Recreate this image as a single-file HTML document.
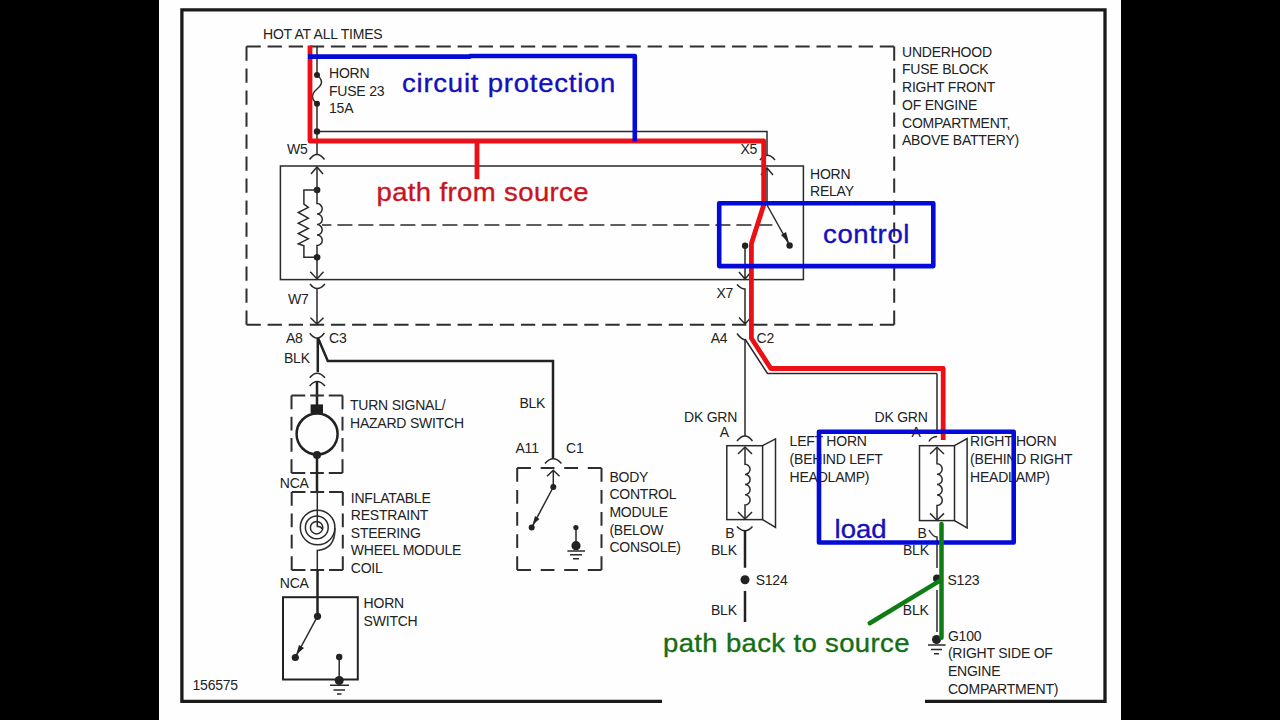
<!DOCTYPE html>
<html><head><meta charset="utf-8">
<style>
html,body{margin:0;padding:0;background:#000;width:1280px;height:720px;overflow:hidden}
#pg{position:absolute;left:159px;top:0;width:962px;height:720px;background:#fefefe}
svg{position:absolute;left:0;top:0}
text{font-family:"Liberation Sans",sans-serif}
.l{font-size:14px;fill:#222;letter-spacing:-0.22px}
.a{font-size:25px;stroke-width:0.35px}
.k{fill:none;stroke:#2a2a2a;stroke-width:1.5}
.kt{fill:none;stroke:#222;stroke-width:2.5}
.d{fill:none;stroke:#2e2e2e;stroke-width:2}
.r{fill:none;stroke:#ec0f16;stroke-width:4.8;stroke-linejoin:round}
.b{fill:none;stroke:#040ad8;stroke-width:4.6;stroke-linejoin:round}
.g{fill:none;stroke:#0f7d14;stroke-width:4.5;stroke-linecap:round}
.dot{fill:#222}
</style></head><body>
<div id="pg"></div>
<svg width="1280" height="720" viewBox="0 0 1280 720">
<!-- frame -->
<path d="M662,701.4 H181.9 V9.9 H1105 V701.4 H925" fill="none" stroke="#1a1a1a" stroke-width="3.3"/>

<!-- fuse block dashed -->
<path class="d" d="M246.5,46.5 L894.2,46.5" stroke-dasharray="14.30 6.81"/><path class="d" d="M246.5,324.7 L894.2,324.7" stroke-dasharray="14.30 6.81"/><path class="d" d="M246.5,46.5 L246.5,324.7" stroke-dasharray="14.30 7.69"/><path class="d" d="M894.2,46.5 L894.2,324.7" stroke-dasharray="14.30 7.69"/>

<!-- top labels -->
<text class="l" x="263.0" y="38.5">HOT AT ALL TIMES</text>
<text class="l" x="329.0" y="77.5">HORN</text>
<text class="l" x="329.0" y="95.5">FUSE 23</text>
<text class="l" x="329.0" y="113">15A</text>
<g class="l">
<text x="902.0" y="56.7">UNDERHOOD</text>
<text x="902.0" y="74.4">FUSE BLOCK</text>
<text x="902.0" y="92.1">RIGHT FRONT</text>
<text x="902.0" y="109.8">OF ENGINE</text>
<text x="902.0" y="127.5">COMPARTMENT,</text>
<text x="902.0" y="145.2">ABOVE BATTERY)</text>
</g>
<text class="l" x="287.0" y="153.7">W5</text>
<text class="l" x="288.0" y="304">W7</text>
<text class="l" x="740.5" y="153.9">X5</text>
<text class="l" x="716.5" y="298.3">X7</text>
<text class="l" x="810.0" y="178.5">HORN</text>
<text class="l" x="810.0" y="196">RELAY</text>

<!-- fuse wire -->
<path class="k" d="M317,46 V75 M317,103.7 V154.4 M317,131.5 H767 V155.5"/>
<path class="k" d="M317,75 C323,80 323,84 317,89 C311,94 311,99 317,103.7" stroke-width="1.8"/>
<circle class="dot" cx="317" cy="75" r="3"/>
<circle class="dot" cx="317" cy="103.7" r="3"/>
<circle class="dot" cx="317" cy="131.5" r="3.2"/>

<!-- W5 connector -->
<path class="k" d="M309.5,159.5 Q317,149.5 324.5,159.5" stroke-width="1.8"/>
<!-- relay box -->
<rect class="k" x="280.4" y="166" width="523" height="113.6"/>
<path class="k" d="M311,174 L317,167 L323,174"/>
<circle class="dot" cx="317.1" cy="190" r="3.3"/>
<path class="k" d="M317,190 H303.9 V204.2 L308.3,207.4 L298.3,212.5 L308.3,218.2 L298.3,223.2 L308.3,228.4 L298.3,233.6 L308.3,238.8 L298.3,243.8 L303.9,245.8 V257.3 H317"/>
<path class="k" d="M317,167 V203.6 A5.2,5.2 0 0 1 317,214 A5.2,5.2 0 0 1 317,224.6 A5.2,5.2 0 0 1 317,235 A5.2,5.2 0 0 1 317,245.5 V279"/>
<circle class="dot" cx="317.1" cy="257.3" r="3.3"/>
<path class="k" d="M310.3,271.7 L317,279 L323.5,271.7"/>
<path class="k" d="M322,225 H775" stroke-dasharray="15 6" stroke-dashoffset="5.6" stroke="#555" stroke-width="1.6"/>
<!-- W7 -->
<path class="k" d="M310,284 Q317,293 325,284 M317,288.6 V324 M310.5,317.8 L317,324 L323.5,317.8" stroke-width="1.8"/>

<!-- X5 / relay switch -->
<path class="k" d="M760,160 Q767,150.5 775,160" stroke-width="1.8"/>
<path class="k" d="M761,175 L767,168 L773,175 M767,168 V205"/>
<path class="k" d="M767,205 L789.6,245.5" stroke-width="1.8"/>
<path class="dot" d="M789,243 L781,235 L786,232 Z"/>
<circle class="dot" cx="789.6" cy="245.5" r="3.2"/>
<circle class="dot" cx="745.1" cy="245.8" r="3.2"/>
<path class="k" d="M745,245.8 V279 M739,272 L745,279 L751,272"/>
<!-- X7 / A4 -->
<path class="k" d="M737,284.5 Q741,289 745,289 V324 M739,317.5 L745,324 L751,317.5" stroke-width="1.6"/>
<path class="k" d="M737,333.5 Q741,339 745,340" stroke-width="1.6"/>
<text class="l" x="710.7" y="343.3">A4</text>
<text class="l" x="756.5" y="343.3">C2</text>
<path class="k" d="M745,339 L767.5,373.5 H937" stroke-width="2.8" stroke="#252525"/><path class="k" d="M937,373.5 V433 M745,339 V436" stroke-width="1.9"/>

<!-- A8/C3 -->
<text class="l" x="286.0" y="342.8">A8</text>
<text class="l" x="329.0" y="342.8">C3</text>
<text class="l" x="284.0" y="362.8">BLK</text>
<path class="k" d="M309.8,333.3 Q317,343 324.4,333" stroke-width="2"/>
<path class="kt" d="M317.8,338 V372 M318,338 L327.8,361 H553 V459"/>
<path class="k" d="M309.7,377.8 Q317,368.5 325,377.8 M309.7,386 Q317,377 325,386" stroke-width="2"/>
<path class="kt" d="M317,381.7 V405" stroke-width="2"/>

<!-- turn signal -->
<path class="d" d="M291.5,395.6 L342.5,395.6" stroke-dasharray="13.75 4.88"/><path class="d" d="M291.5,473.0 L342.5,473.0" stroke-dasharray="13.75 4.88"/><path class="d" d="M291.5,395.6 L291.5,473.0" stroke-dasharray="13.75 7.47"/><path class="d" d="M342.5,395.6 L342.5,473.0" stroke-dasharray="13.75 7.47"/>
<rect x="310.6" y="404.4" width="12.4" height="8.6" fill="#1e1e1e"/>
<circle cx="317.1" cy="434" r="20.5" fill="none" stroke="#222" stroke-width="2.5"/>
<circle class="dot" cx="317" cy="455" r="4"/>
<path class="kt" d="M317,455 V492"/>
<text class="l" x="350.0" y="410">TURN SIGNAL/</text>
<text class="l" x="350.0" y="427.8">HAZARD SWITCH</text>
<text class="l" x="279.8" y="488">NCA</text>

<!-- coil -->
<path class="d" d="M291.7,492.0 L342.8,492.0" stroke-dasharray="13.75 4.93"/><path class="d" d="M291.7,570.0 L342.8,570.0" stroke-dasharray="13.75 4.93"/><path class="d" d="M291.7,492.0 L291.7,570.0" stroke-dasharray="13.75 7.67"/><path class="d" d="M342.8,492.0 L342.8,570.0" stroke-dasharray="13.75 7.67"/>
<path class="k" d="M317.3,492 V521.5"/>
<g class="k" stroke-width="1.7"><circle cx="316.6" cy="527.7" r="6.2"/><circle cx="316.8" cy="527.4" r="11.4"/><circle cx="317.6" cy="527.5" r="17.3"/>
<path d="M317.3,521.5 V526.5 Q321,526 322,529 M334.9,528 Q335.5,549 317.3,550.4 V570"/></g>
<path class="kt" d="M317.5,570 V616"/>
<g class="l">
<text x="350.8" y="502.5">INFLATABLE</text>
<text x="350.8" y="520">RESTRAINT</text>
<text x="350.8" y="537.6">STEERING</text>
<text x="350.8" y="555.2">WHEEL MODULE</text>
<text x="350.8" y="572.6">COIL</text>
</g>
<text class="l" x="279.8" y="587.5">NCA</text>

<!-- horn switch -->
<rect x="283" y="597.2" width="74.8" height="82.3" fill="none" stroke="#222" stroke-width="2"/>
<circle class="dot" cx="317.5" cy="616.3" r="3.6"/>
<path class="k" d="M317.5,616.3 L295.3,657.5" stroke-width="2"/>
<path class="dot" d="M296,655 L299,645 L304,648 Z"/>
<circle class="dot" cx="295.3" cy="657.5" r="3.6"/>
<circle class="dot" cx="339.2" cy="657" r="3.2"/>
<path class="k" d="M339.2,657 V680 M330,685.3 H349 M333.5,690 H345 M337,694 H341.5" stroke-width="2"/>
<circle class="dot" cx="339.2" cy="680.5" r="4.5"/>
<text class="l" x="363.6" y="608.4">HORN</text>
<text class="l" x="363.6" y="625.8">SWITCH</text>
<text class="l" x="192.5" y="689.9">156575</text>

<!-- BCM -->
<text class="l" x="519.4" y="407.7">BLK</text>
<text class="l" x="515.5" y="453.2">A11</text>
<text class="l" x="566.0" y="453.2">C1</text>
<path class="k" d="M545,463.5 Q553.3,454 561.4,463.5" stroke-width="2"/>
<path class="d" d="M517.2,468.0 L601.5,468.0" stroke-dasharray="13.75 9.77"/><path class="d" d="M517.2,570.0 L601.5,570.0" stroke-dasharray="13.75 9.77"/><path class="d" d="M517.2,468.0 L517.2,570.0" stroke-dasharray="13.75 8.31"/><path class="d" d="M601.5,468.0 L601.5,570.0" stroke-dasharray="13.75 8.31"/>
<path class="k" d="M547,476.2 L553.3,470.2 L559.5,476.2 M553.3,470.2 V487"/>
<circle class="dot" cx="553.3" cy="487" r="3"/>
<path class="k" d="M553.3,487 L531.7,527.6" stroke-width="1.8"/>
<path class="dot" d="M532.5,525 L535,516 L539.5,519 Z"/>
<circle class="dot" cx="531.7" cy="527.6" r="3"/>
<circle class="dot" cx="575.9" cy="527.6" r="2.6"/>
<path class="k" d="M576,527.6 V546 M567.4,551 H585 M570,554.7 H582 M573,558.7 H579" stroke-width="1.8"/>
<circle class="dot" cx="576" cy="545.7" r="4.6"/>
<g class="l">
<text x="609.4" y="481.5">BODY</text>
<text x="609.4" y="499.2">CONTROL</text>
<text x="609.4" y="516.9">MODULE</text>
<text x="609.4" y="534.6">(BELOW</text>
<text x="609.4" y="552.3">CONSOLE)</text>
</g>

<!-- left horn -->
<text class="l" x="684.0" y="421.5">DK GRN</text>
<text class="l" x="719.7" y="437">A</text>
<path class="k" d="M737,441 Q745,431 752.5,441" stroke-width="1.8"/>
<rect class="k" x="726.8" y="445.7" width="35.8" height="73.9"/>
<path class="k" d="M762.6,445.7 L775.5,438.9 V527.4 L762.6,519.6"/>
<path class="k" d="M738,454 L745,447 L752,454"/>
<path class="k" d="M745,447 V464.2 A5.1,5.1 0 0 1 745,474.4 A5.1,5.1 0 0 1 745,484.6 A5.1,5.1 0 0 1 745,494.8 A5.1,5.1 0 0 1 745,505 V519"/>
<path class="k" d="M738,512 L745,519 L752,512"/>
<path class="k" d="M737,526.5 Q745,535 752.5,526.5" stroke-width="1.8"/>
<path class="kt" d="M745,530 V567.8 M745,591 V622" stroke-width="2.2"/>
<circle class="dot" cx="745" cy="579.8" r="4.5"/>
<text class="l" x="725.3" y="538">B</text>
<text class="l" x="711.0" y="555">BLK</text>
<text class="l" x="755.7" y="585">S124</text>
<text class="l" x="711.0" y="615">BLK</text>
<g class="l">
<text x="789.6" y="446.1">LEFT HORN</text>
<text x="789.6" y="463.8">(BEHIND LEFT</text>
<text x="789.6" y="481.5">HEADLAMP)</text>
</g>

<!-- right horn -->
<text class="l" x="874.5" y="421.5">DK GRN</text>
<text class="l" x="911.5" y="437">A</text>
<path class="k" d="M929,441.5 Q931,437 937,436.5" stroke-width="1.8"/>
<rect class="k" x="919.5" y="445.7" width="35" height="74.9"/>
<path class="k" d="M954.5,445.7 L967.1,438.5 V528 L954.5,520.6"/>
<path class="k" d="M930,454 L937,447.2 L944,454"/>
<path class="k" d="M937,447.2 V463.8 A5.2,5.2 0 0 1 937,474.2 A5.2,5.2 0 0 1 937,484.6 A5.2,5.2 0 0 1 937,495 A5.2,5.2 0 0 1 937,505.5 V520"/>
<path class="k" d="M930,513.4 L937,520.2 L944,513.4"/>
<path class="k" d="M929,530 Q933,537 937,537 V568 M937,590 V632" stroke-width="1.8"/>
<circle class="dot" cx="937" cy="578.5" r="4"/>
<circle class="dot" cx="936.5" cy="639.5" r="4.5"/>
<path class="k" d="M928,645 H945.6 M931,649.5 H942 M934,653.8 H939" stroke-width="2"/>
<text class="l" x="917.5" y="537.7">B</text>
<text class="l" x="903.0" y="555.2">BLK</text>
<text class="l" x="947.5" y="585.3">S123</text>
<text class="l" x="902.8" y="615.4">BLK</text>
<g class="l">
<text x="970.1" y="446.1">RIGHT HORN</text>
<text x="970.1" y="463.8">(BEHIND RIGHT</text>
<text x="970.1" y="481.5">HEADLAMP)</text>
<text x="947.9" y="640.6">G100</text>
<text x="947.9" y="658.3">(RIGHT SIDE OF</text>
<text x="947.9" y="676">ENGINE</text>
<text x="947.9" y="693.9">COMPARTMENT)</text>
</g>

<!-- annotations -->
<path class="r" d="M310,45.6 V141 H763.7 V205 L751.4,243.5 V338.3 L770.8,368.5 H943.2 V440"/>
<path class="r" d="M477,141 V179" stroke-width="4.2"/>
<path class="b" d="M308,56.6 H470 V56 H634.8 V141.5"/>
<rect class="b" x="719.2" y="203.3" width="214.1" height="62.8"/>
<rect class="b" x="819" y="431.7" width="194.7" height="110.8"/>
<path class="g" d="M941.5,524 V637.8 M869.7,623.2 L938.8,581.4"/>

<text class="a" transform="translate(402,91.7) scale(1.1,1)" fill="#1410bc" stroke="#1410bc" letter-spacing="0.71">circuit protection</text>
<text class="a" transform="translate(376.5,200.7) scale(1.1,1)" fill="#c8141e" stroke="#c8141e" letter-spacing="0.35">path from source</text>
<text class="a" transform="translate(823,242.8) scale(1.1,1)" fill="#1410bc" stroke="#1410bc" letter-spacing="0.6">control</text>
<text class="a" transform="translate(834.5,537.5) scale(1.1,1)" fill="#1410bc" stroke="#1410bc" letter-spacing="0.05">load</text>
<text class="a" transform="translate(663,651.6) scale(1.1,1)" fill="#146e14" stroke="#146e14" letter-spacing="0.33">path back to source</text>
</svg>
</body></html>
